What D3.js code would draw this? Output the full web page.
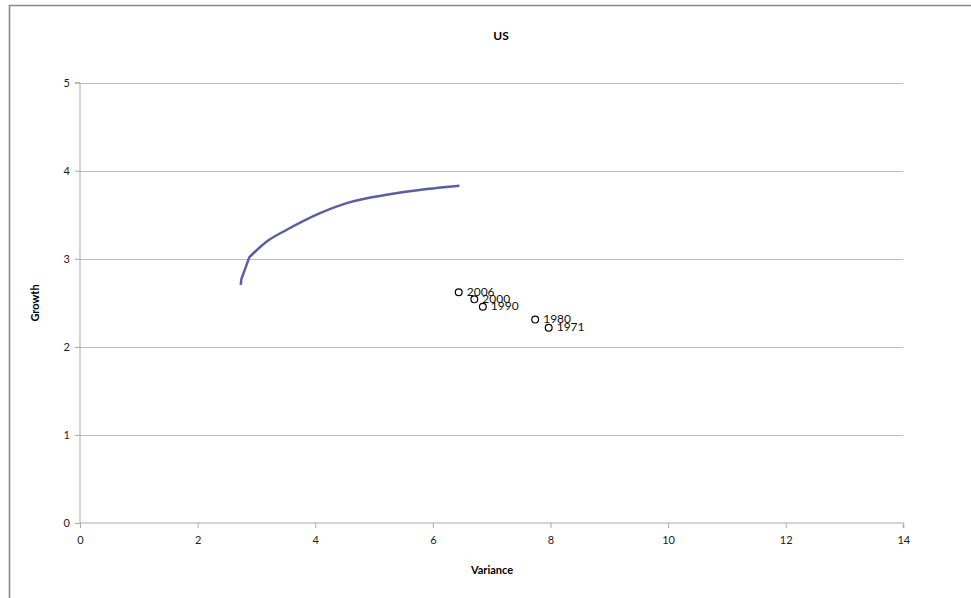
<!DOCTYPE html>
<html><head><meta charset="utf-8">
<script src="https://cdn.jsdelivr.net/npm/d3@7"></script>
<style>
html,body{margin:0;padding:0;background:#fff;}
svg{display:block;font-family:Lato,"Open Sans",sans-serif;}
</style></head>
<body>
<svg id="chart" width="971" height="598"></svg>
<script>
const titleText = "US";
const xTitle = "Variance";
const yTitle = "Growth";
const curveVariance = [2.733, 2.744, 2.880, 3.176, 3.516, 4.082, 4.593, 5.217, 5.897, 6.452];
const curveGrowth   = [2.705, 2.769, 3.019, 3.197, 3.330, 3.519, 3.644, 3.727, 3.792, 3.830];
const pointLabels   = ["2006", "2000", "1990", "1980", "1971"];
const pointVariance = [6.44, 6.705, 6.85, 7.74, 7.97];
const pointGrowth   = [2.62, 2.54, 2.456, 2.31, 2.218];
const xTicks = [0, 2, 4, 6, 8, 10, 12, 14];
const yTicks = [0, 1, 2, 3, 4, 5];

const svg = d3.select("#chart");
const x = d3.scaleLinear().domain([0, 14]).range([80, 903.3]);
const y = d3.scaleLinear().domain([0, 5]).range([523, 82.7]);
const FONT = "Lato,'Open Sans',sans-serif";

// outer chart frame
svg.append("path").attr("d", "M9.5,598 L9.5,5.5 L971,5.5")
  .attr("fill", "none").attr("stroke", "#8a8a8a").attr("stroke-width", 1.6);

// gridlines
svg.append("g").selectAll("line").data(yTicks.filter(d => d > 0)).join("line")
  .attr("x1", x(0)).attr("x2", x(14))
  .attr("y1", d => Math.round(y(d)) + 0.5).attr("y2", d => Math.round(y(d)) + 0.5)
  .attr("stroke", "#bdbdbd").attr("stroke-width", 1);

// y axis
const yAxis = svg.append("g").attr("transform", `translate(${x(0)},0)`)
  .call(d3.axisLeft(y).tickValues(yTicks).tickSize(5).tickPadding(5).tickFormat(d3.format("d")));
yAxis.select(".domain").attr("stroke", "#a8a8a8").attr("d", `M-5,${y(5)}H0V${y(0)}`);
yAxis.selectAll(".tick line").attr("stroke", "#a8a8a8");
yAxis.selectAll("text").attr("font-size", 11).attr("fill", "#222").attr("font-family", FONT);

// x axis
const xAxis = svg.append("g").attr("transform", `translate(0,${y(0)})`)
  .call(d3.axisBottom(x).tickValues(xTicks).tickSize(5).tickPadding(8).tickFormat(d3.format("d")));
xAxis.select(".domain").attr("stroke", "#a8a8a8").attr("d", `M${x(0)},0H${x(14)}V5`);
xAxis.selectAll(".tick line").attr("stroke", "#a8a8a8");
xAxis.selectAll("text").attr("font-size", 11).attr("fill", "#222").attr("font-family", FONT);

// curve: straight lower segment up to the knee, smooth beyond it
const idx = curveVariance.map((d, i) => i);
const lower = d3.line().x(i => x(curveVariance[i])).y(i => y(curveGrowth[i])).curve(d3.curveLinear);
const upper = d3.line().x(i => x(curveVariance[i])).y(i => y(curveGrowth[i])).curve(d3.curveMonotoneX);
svg.append("path").attr("d", lower(idx.slice(0, 3)) + upper(idx.slice(2)).replace(/^M[^CL]*/, ""))
  .attr("fill", "none").attr("stroke", "#5b5ea0").attr("stroke-width", 2.5).attr("stroke-linejoin", "round");

// points
const pts = svg.append("g").selectAll("g").data(pointLabels).join("g")
  .attr("transform", (d, i) => `translate(${x(pointVariance[i])},${y(pointGrowth[i])})`);
pts.append("circle").attr("r", 3.4).attr("fill", "#fff").attr("stroke", "#000").attr("stroke-width", 1.2);
pts.append("text").attr("x", 8).attr("y", 3.5).attr("font-size", 12).attr("fill", "#111").text(d => d);

// titles
svg.append("text").attr("x", 501).attr("y", 40).attr("text-anchor", "middle")
  .attr("font-size", 12).attr("font-weight", "bold").text(titleText);
svg.append("text").attr("x", 492).attr("y", 574).attr("text-anchor", "middle")
  .attr("font-size", 11).attr("font-weight", "bold").text(xTitle);
svg.append("text").attr("transform", "translate(39,303) rotate(-90)").attr("text-anchor", "middle")
  .attr("font-size", 11).attr("font-weight", "bold").text(yTitle);
</script>
</body></html>
